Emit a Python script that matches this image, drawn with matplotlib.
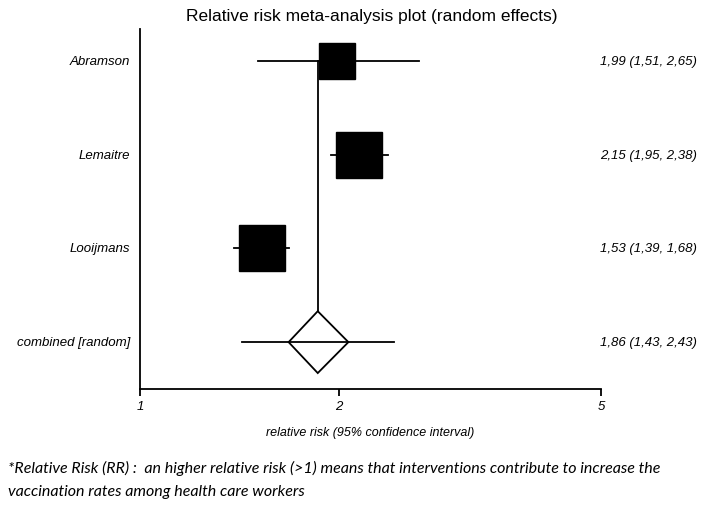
import matplotlib
matplotlib.use("Agg")
import matplotlib.pyplot as plt
import numpy as np

# ---- data ----
studies = ["Abramson", "Lemaitre", "Looijmans"]
rr = [1.99, 2.15, 1.53]
ci_low = [1.51, 1.95, 1.39]
ci_high = [2.65, 2.38, 1.68]
box_size_pt = [26, 33, 33]

combined_label = "combined [random]"
comb_rr = 1.86
comb_low = 1.43
comb_high = 2.43
diamond_low = 1.68
diamond_high = 2.07

xticks = [1, 2, 5]
xticklabels = ["1", "2", "5"]

def fmt(v):
    return f"{v:.2f}".replace(".", ",")

fig = plt.figure(figsize=(7.1, 5.1), dpi=100)
ax = fig.add_axes([140/710, 120/510, 461/710, 360/510])
ax.set_xscale("log")
ax.set_xlim(1, 5)
ax.set_ylim(-0.5, 3.34)

fam = ["Liberation Sans", "DejaVu Sans"]
n = len(studies)
ys = [n - i for i in range(n)]  # 3,2,1
yc = 0

for y, r, lo, hi, ms in zip(ys, rr, ci_low, ci_high, box_size_pt):
    ax.plot([lo, hi], [y, y], color="black", lw=1.3, zorder=2)
    ax.plot([r], [y], marker="s", ms=ms, color="black", mec="black", zorder=3, ls="none")

# diamond
dh = 0.33
ax.fill([diamond_low, comb_rr, diamond_high, comb_rr, diamond_low],
        [yc, yc + dh, yc, yc - dh, yc], facecolor="white", edgecolor="black", lw=1.3, zorder=3)
ax.plot([comb_low, comb_high], [yc, yc], color="black", lw=1.3, zorder=4)
ax.plot([comb_rr, comb_rr], [yc + dh, ys[0]], color="black", lw=1.3, zorder=1)

# spines
for s in ["top", "right"]:
    ax.spines[s].set_visible(False)
ax.spines["left"].set_linewidth(1.3)
ax.spines["bottom"].set_linewidth(1.3)
ax.set_yticks([])
ax.set_xticks(xticks)
ax.set_xticklabels(xticklabels, fontstyle="italic", family=fam, fontsize=9.5)
ax.xaxis.set_minor_locator(matplotlib.ticker.NullLocator())
ax.tick_params(axis="x", direction="out", length=5, width=1.3, pad=3)

# row labels
labels = studies + [combined_label]
rights = [f"{fmt(r)} ({fmt(l)}, {fmt(h)})" for r, l, h in zip(rr, ci_low, ci_high)]
rights.append(f"{fmt(comb_rr)} ({fmt(comb_low)}, {fmt(comb_high)})")
for y, lab, rt in zip(ys + [yc], labels, rights):
    ax.annotate(lab, xy=(0, y), xycoords=("axes fraction", "data"), xytext=(-10, 0),
                textcoords="offset pixels", ha="right", va="center",
                fontstyle="italic", family=fam, fontsize=9.5)
    ax.annotate(rt, xy=(1, y), xycoords=("axes fraction", "data"), xytext=(697 - 601, 0),
                textcoords="offset pixels", ha="right", va="center",
                fontstyle="italic", family=fam, fontsize=9.5)

ax.set_xlabel("relative risk (95% confidence interval)", fontstyle="italic",
              family=fam, fontsize=9, labelpad=10)
fig.text(372/710, 1 - 17/510, "Relative risk meta-analysis plot (random effects)",
         ha="center", va="center", family=fam, fontsize=12.5)

foot_fam = ["Lato", "DejaVu Sans"]
fig.text(8/710, 1 - 468/510,
         "*Relative Risk (RR) :  an higher relative risk (>1) means that interventions contribute to increase the",
         ha="left", va="center", family=foot_fam, fontstyle="italic", fontsize=11.5)
fig.text(8/710, 1 - 492/510, "vaccination rates among health care workers",
         ha="left", va="center", family=foot_fam, fontstyle="italic", fontsize=11.5)

fig.savefig("out.png", dpi=100)
